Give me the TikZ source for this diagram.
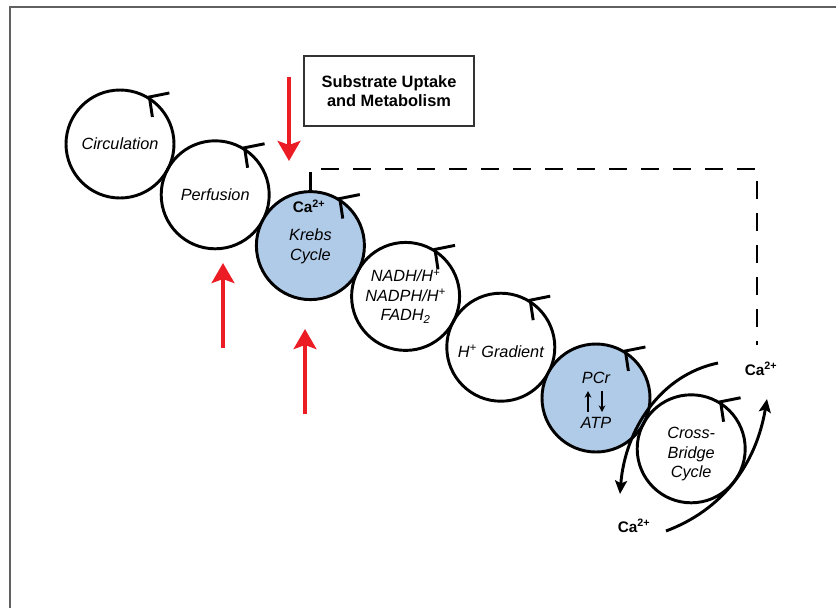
\documentclass[tikz,border=0pt]{standalone}
\usepackage{fontspec}
\setmainfont{Liberation Sans}
\usetikzlibrary{arrows.meta,positioning}
\definecolor{cycblue}{RGB}{176,203,232}
\definecolor{pumpred}{RGB}{236,28,36}
\tikzset{
    cyc/.style={draw, circle, line width=2.2pt, minimum size=81pt, inner sep=0pt, align=center, font=\fontsize{12.2}{14.6}\selectfont\itshape},
    hot/.style={fill=cycblue},
    tick/.style={line width=2.2pt},
    lbl/.style={font=\fontsize{12.2}{14.6}\selectfont\itshape, inner sep=0pt},
    ion/.style={font=\fontsize{11.5}{13}\selectfont\bfseries, inner sep=1pt},
    feed/.style={-{Stealth[width=17pt,length=15pt,inset=3pt]}, pumpred, line width=3pt},
    flux/.style={-{Stealth[width=9pt,length=10pt,inset=2pt]}, line width=2.2pt},
    swap/.style={-{Stealth[width=5pt,length=5pt]}, line width=1.1pt}
}

\begin{document}
\begin{tikzpicture}[x=0.75pt, y=-0.75pt]
    \useasboundingbox (0,0) rectangle (836,608);
    % frame
    \draw[gray!75!black, line width=1.5pt] (10,608) -- (10,7) -- (836,7);

    % the chain of cycles
    \node[cyc]      (circ)    at (120,144)   {Circulation};
    \node[cyc]      (perf)    at (215.2,194.8) {Perfusion};
    \node[cyc, hot] (krebs)   at (310.4,245.6) {};
    \node[cyc]      (nadh)    at (405.6,296.4) {NADH/H\textsuperscript{+}\\NADPH/H\textsuperscript{+}\\FADH\textsubscript{2}};
    \node[cyc]      (grad)    at (500.8,347.2) {};
    \node[cyc, hot] (pcr)     at (596,398)   {};
    \node[cyc]      (xbridge) at (691.2,448.8) {};

    \foreach \c in {circ, perf, krebs, nadh, grad, pcr, xbridge}
        \draw[tick] ([shift={(20,-4)}]\c.58) -- (\c.58) -- ++(3,20);

    % labels inside the cycles
    \node[lbl] (krebsname) at ([yshift=-0.5pt]krebs.center) [align=center] {Krebs\\Cycle};
    \node[ion] (cakrebs)   at ([xshift=-1pt,yshift=29.5pt]krebs.center) {Ca\textsuperscript{2+}};
    \node[lbl] (gradname)  at ([yshift=-3pt]grad.center) {H\textsuperscript{+} Gradient};
    \node[lbl] (pcrname)   at ([yshift=15pt]pcr.center) {PCr};
    \node[lbl] (atpname)   at ([yshift=-19pt]pcr.center) {ATP};
    \draw[swap] ([shift={(-8,14)}]pcr.center) -- ++(0,-21);
    \draw[swap] ([shift={(6,-7)}]pcr.center) -- ++(0,21);
    \node[lbl, align=center] (xbname) at ([yshift=-4pt]xbridge.center) {Cross-\\Bridge\\Cycle};

    % substrate box and red arrows
    \node[draw=black!80, line width=1pt, minimum width=127.5pt, minimum height=52.5pt, align=center,
          font=\fontsize{12.3}{14.8}\selectfont\bfseries] (subst) at (389,91) {Substrate Uptake\\and Metabolism};
    \coordinate (sub0) at (289,77);
    \coordinate (sub1) at (289,161);
    \coordinate (flo0) at (223,348);
    \coordinate (flo1) at (223,263);
    \coordinate (oxy0) at (305,414);
    \coordinate (oxy1) at (305,329);
    \draw[feed] (sub0) -- (sub1);
    \draw[feed] (flo0) -- (flo1);
    \draw[feed] (oxy0) -- (oxy1);

    % calcium loop
    \node[ion] (catop) at (761,369) {Ca\textsuperscript{2+}};
    \node[ion] (cabot) at (634,526) {Ca\textsuperscript{2+}};
    \coordinate (dashtop) at (757,169);
    \draw[dash pattern=on 13.5pt off 10.5pt, line width=2.2pt]
        (krebs.north) |- (dashtop) -- ([xshift=-3pt,yshift=12pt]catop.north);

    \coordinate (relA) at (718,363);
    \coordinate (relB) at (620,494);
    \coordinate (upA)  at (666,531);
    \coordinate (upB)  at (767,399);
    \draw[flux] (relA) .. controls (660,375) and (625,430) .. (relB);
    \draw[flux] (upA) .. controls (722,510) and (756,465) .. (upB);
\end{tikzpicture}
\end{document}
